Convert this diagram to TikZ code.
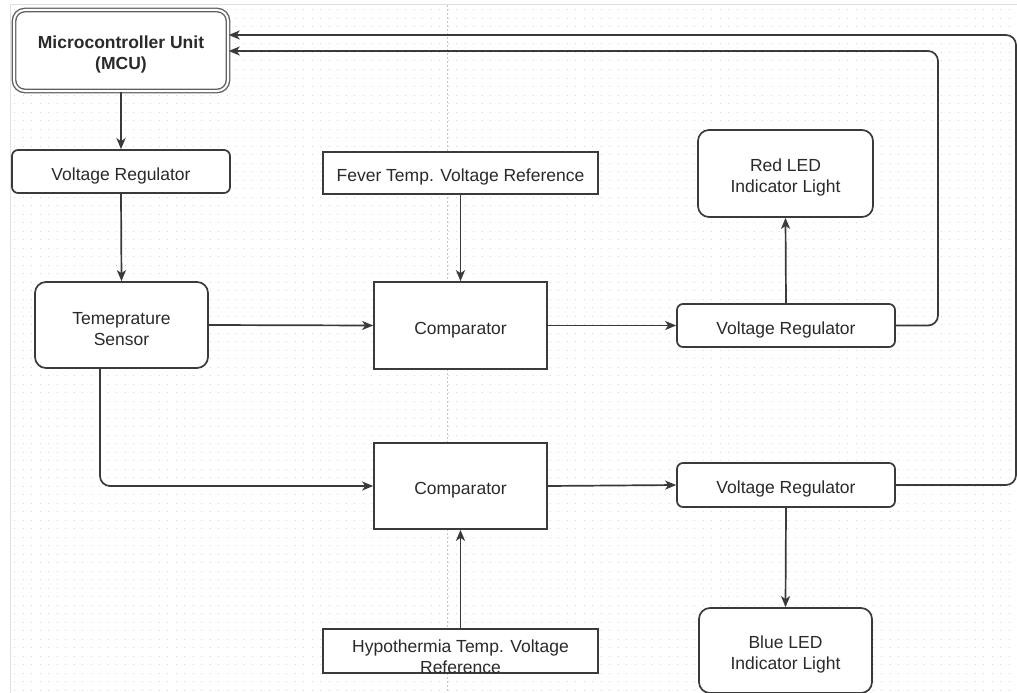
\documentclass[tikz,border=0pt]{standalone}
\usepackage{fontspec}
\setmainfont{Liberation Sans}
\usetikzlibrary{arrows.meta}
\definecolor{ln}{HTML}{3A3A3A}
\definecolor{tx}{HTML}{2A2A2A}
\definecolor{gridc}{HTML}{D6D6D6}
\newcommand{\tpad}{\rule{0pt}{20.7pt}}
\tikzset{
  box/.style={draw=ln, line width=1.7pt, fill=white, inner sep=2pt, align=center,
    text=tx, font=\fontsize{17.5}{21}\selectfont},
  rbox/.style={box, rounded corners=11pt},
  sbox/.style={box, rounded corners=6pt},
  arr/.style={draw=ln, line width=1.7pt, -{Stealth[length=11pt,width=9pt,inset=3pt]}, rounded corners=10pt},
  lbl/.style={align=center, text=tx, font=\fontsize{17.5}{21}\selectfont, inner sep=0pt}
}
\begin{document}
\begin{tikzpicture}[x=1pt,y=-1pt]
\useasboundingbox (0,0) rectangle (1017,693);
% canvas background with dot grid
\fill[white] (0,0) rectangle (1017,693);
\foreach \yy in {10,18.5,...,693} {
  \draw[gridc, line width=1pt, dash pattern=on 1pt off 7.5pt] (14,\yy) -- (1017,\yy);
}
\draw[gray!25, line width=1pt] (10,5) -- (1017,5);
\draw[gray!25, line width=1pt] (10,5) -- (10,693);
\draw[gray!45, line width=0.8pt, dash pattern=on 2pt off 2pt] (447,5) -- (447,693);

% nodes
\node[rbox, double=white, double distance=2pt, line width=1.4pt, draw=ln!80, minimum width=214pt, minimum height=81pt,
  font=\fontsize{17.5}{21}\selectfont\bfseries] (mcu) at (121,50.5) {\tpad Microcontroller Unit\\(MCU)};
\node[sbox, minimum width=218pt, minimum height=43pt] (vr1) at (121,171.5) {\tpad Voltage Regulator};
\node[rbox, minimum width=173pt, minimum height=86pt] (sensor) at (121.5,325) {\tpad Temeprature\\Sensor};
\node[box, minimum width=275pt, minimum height=42pt] (fever) at (460.5,173) {\tpad Fever Temp. Voltage Reference};
\node[box, minimum width=173pt, minimum height=87pt] (comp1) at (460.5,325.5) {\tpad Comparator};
\node[box, minimum width=173pt, minimum height=86pt] (comp2) at (460.5,486) {\tpad Comparator};
\node[box, minimum width=275pt, minimum height=44pt] (hypo) at (460.5,651) {};
\node[lbl] (hypotxt) at (460.5,657) {Hypothermia Temp. Voltage\\Reference};
\node[rbox, minimum width=175pt, minimum height=87pt] (red) at (785.5,173.5) {\tpad Red LED\\Indicator Light};
\node[sbox, minimum width=218pt, minimum height=43pt] (vr2) at (786,325.5) {\tpad Voltage Regulator};
\node[sbox, minimum width=218pt, minimum height=44pt] (vr3) at (786,485) {\tpad Voltage Regulator};
\node[rbox, minimum width=173pt, minimum height=85pt] (blue) at (785.5,650.5) {\tpad Blue LED\\Indicator Light};

% connectors
\draw[arr] (mcu.south) -- (vr1.north);
\draw[arr] (vr1.south) -- (sensor.north);
\draw[arr] (sensor.east) -- (comp1.west);
\draw[arr] (fever.south) -- (comp1.north);
\draw[arr] (comp1.east) -- (vr2.west);
\draw[arr] (vr2.north) -- (red.south);
\draw[arr] ([xshift=-21.5pt]sensor.south) |- (comp2.west);
\draw[arr] (hypo.north) -- (comp2.south);
\draw[arr] (comp2.east) -- (vr3.west);
\draw[arr] (vr3.south) -- (blue.north);
\draw[arr] (vr2.east) -- (938,325.5) -- (938,51) -- ([yshift=-0.5pt]mcu.east);
\draw[arr] (vr3.east) -- (1016,485) -- (1016,35) -- ([yshift=15.5pt]mcu.east);
\end{tikzpicture}
\end{document}
